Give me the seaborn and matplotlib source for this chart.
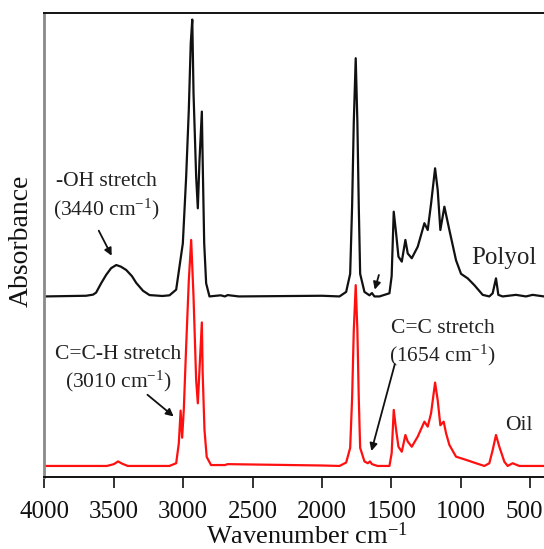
import matplotlib
matplotlib.use("Agg")
import matplotlib.pyplot as plt
import matplotlib.transforms as mtrans
import seaborn as sns
import pandas as pd

# ---- data (absorbance in arbitrary units, baseline 0) ----
polyol_wn = [4000, 3700, 3650, 3628, 3592, 3556, 3520, 3483, 3450, 3411,
             3370, 3339, 3290, 3243, 3150, 3099, 3051, 3003, 2979, 2960,
             2946, 2935, 2926, 2907, 2895, 2883, 2866, 2860, 2849, 2835,
             2811, 2730, 2700, 2680, 2600, 2000, 1874, 1826, 1797, 1783,
             1771, 1757, 1745, 1735, 1725, 1694, 1658, 1640, 1622, 1586,
             1514, 1498, 1483, 1466, 1449, 1425, 1399, 1382, 1353, 1310,
             1262, 1238, 1214, 1185, 1166, 1147, 1118, 1082, 1034, 998,
             950, 902, 842, 794, 770, 746, 729, 698, 602, 530,
             482, 400]
polyol_abs = [0.0, 0.003, 0.008, 0.017, 0.058, 0.095, 0.125, 0.139, 0.132, 0.117,
              0.090, 0.060, 0.025, 0.006, 0.002, 0.005, 0.030, 0.235, 0.530, 0.825,
              1.120, 1.225, 0.900, 0.530, 0.390, 0.600, 0.818, 0.600, 0.235, 0.058,
              0.0, 0.005, 0.0, 0.006, 0.0, 0.003, 0.0, 0.020, 0.100, 0.400,
              0.770, 1.054, 0.770, 0.400, 0.100, 0.020, 0.005, 0.015, 0.0, 0.0,
              0.014, 0.090, 0.375, 0.280, 0.176, 0.154, 0.250, 0.190, 0.169, 0.220,
              0.324, 0.294, 0.410, 0.567, 0.470, 0.294, 0.397, 0.294, 0.160, 0.100,
              0.080, 0.050, 0.007, 0.0, 0.014, 0.080, 0.007, 0.0, 0.007, 0.0,
              0.007, 0.0]

oil_wn = [4000, 3550, 3500, 3470, 3440, 3400, 3100, 3051, 3032, 3019,
          3008, 2996, 2979, 2960, 2943, 2926, 2907, 2895, 2883, 2866,
          2860, 2847, 2831, 2800, 2700, 2680, 2000, 1874, 1826, 1797,
          1783, 1771, 1757, 1745, 1735, 1725, 1694, 1670, 1654, 1640,
          1600, 1514, 1498, 1483, 1466, 1449, 1425, 1399, 1382, 1353,
          1310, 1262, 1238, 1214, 1185, 1166, 1147, 1123, 1106, 1082,
          1034, 962, 890, 830, 794, 770, 746, 722, 686, 662,
          626, 578, 400]
oil_abs = [0.0, 0.0, 0.008, 0.020, 0.010, 0.0, 0.0, 0.012, 0.100, 0.245,
           0.125, 0.250, 0.530, 0.820, 1.000, 0.750, 0.380, 0.277, 0.425, 0.635,
           0.410, 0.160, 0.040, 0.004, 0.004, 0.008, 0.002, 0.0, 0.015, 0.080,
           0.300, 0.600, 0.800, 0.600, 0.300, 0.080, 0.020, 0.012, 0.020, 0.008,
           0.0, 0.0, 0.056, 0.248, 0.160, 0.085, 0.063, 0.137, 0.108, 0.085,
           0.130, 0.196, 0.174, 0.233, 0.369, 0.290, 0.180, 0.196, 0.145, 0.093,
           0.041, 0.027, 0.012, 0.0, 0.012, 0.070, 0.137, 0.085, 0.019, 0.0,
           0.012, 0.0, 0.0]

polyol_offset = 0.75
x_ticks = [4000, 3500, 3000, 2500, 2000, 1500, 1000, 500]

# ---- style ----
sns.set_style("white")
plt.rcParams["font.family"] = ["Liberation Serif", "DejaVu Serif"]
plt.rcParams["mathtext.fontset"] = "custom"
plt.rcParams["mathtext.rm"] = "Liberation Serif"
plt.rcParams["mathtext.it"] = "Liberation Serif:italic"
plt.rcParams["mathtext.default"] = "regular"

fig = plt.figure(figsize=(5.44, 5.49), dpi=100)
ax = fig.add_axes([0.0818, 0.1311, 0.9182, 0.8452])

df_p = pd.DataFrame({"wn": polyol_wn, "a": [v + polyol_offset for v in polyol_abs]})
df_o = pd.DataFrame({"wn": oil_wn, "a": oil_abs})

sns.lineplot(data=df_p, x="wn", y="a", color="#111111", lw=1.6, ax=ax,
             estimator=None, sort=False)
sns.lineplot(data=df_o, x="wn", y="a", color="#ff1010", lw=1.6, ax=ax,
             estimator=None, sort=False)

ax.set_xlim(4000, 400)
ax.set_ylim(-0.049, 2.004)
ax.set_xticks(x_ticks)
ax.set_xticklabels([str(t) for t in x_ticks], fontsize=18)
ax.set_yticks([])
ax.tick_params(axis="x", direction="out", length=8, width=1.2, pad=9,
               bottom=True, colors="#111111")
# keep the last label ("500") inside the picture edge
last = ax.get_xticklabels()[-1]
last.set_transform(last.get_transform() +
                   mtrans.ScaledTranslation(-6 / 100, 0, fig.dpi_scale_trans))

ax.set_xlabel("Wavenumber cm$^{-1}$", fontsize=19, color="#111111")
ax.set_ylabel("Absorbance", fontsize=20, color="#111111")
ax.xaxis.set_label_coords(0.525, -0.097)
ax.yaxis.set_label_coords(-0.022, 0.51)

for side in ["top", "bottom"]:
    ax.spines[side].set_color("#111111")
    ax.spines[side].set_linewidth(1.4)
ax.spines["left"].set_color("#8a8a8a")
ax.spines["left"].set_linewidth(2.0)
ax.spines["right"].set_visible(False)

tcol = "#222222"
fs = 15.5
ax.text(3553, 1.257, "-OH stretch", ha="center", va="center", fontsize=fs, color=tcol)
ax.text(3553, 1.137, "(3440 cm$^{-1}$)", ha="center", va="center", fontsize=fs, color=tcol)
ax.text(3467, 0.491, "C=C-H stretch", ha="center", va="center", fontsize=fs, color=tcol)
ax.text(3467, 0.372, "(3010 cm$^{-1}$)", ha="center", va="center", fontsize=fs, color=tcol)
ax.text(1132, 0.608, "C=C stretch", ha="center", va="center", fontsize=fs, color=tcol)
ax.text(1132, 0.491, "(1654 cm$^{-1}$)", ha="center", va="center", fontsize=fs, color=tcol)
ax.text(689, 0.918, "Polyol", ha="center", va="center", fontsize=18, color=tcol)
ax.text(578, 0.178, "Oil", ha="center", va="center", fontsize=15.5, color=tcol)

ap = dict(arrowstyle="-|>", color="#111111", lw=1.3, mutation_scale=11,
          shrinkA=0, shrinkB=0)
ax.annotate("", xy=(3516, 0.93), xytext=(3609, 1.041), arrowprops=ap)
ax.annotate("", xy=(3069, 0.219), xytext=(3258, 0.315), arrowprops=ap)
ax.annotate("", xy=(1644, 0.066), xytext=(1475, 0.451), arrowprops=ap)
ax.annotate("", xy=(1620, 0.78), xytext=(1590, 0.845), arrowprops=ap)

fig.savefig("out.png", dpi=100)
